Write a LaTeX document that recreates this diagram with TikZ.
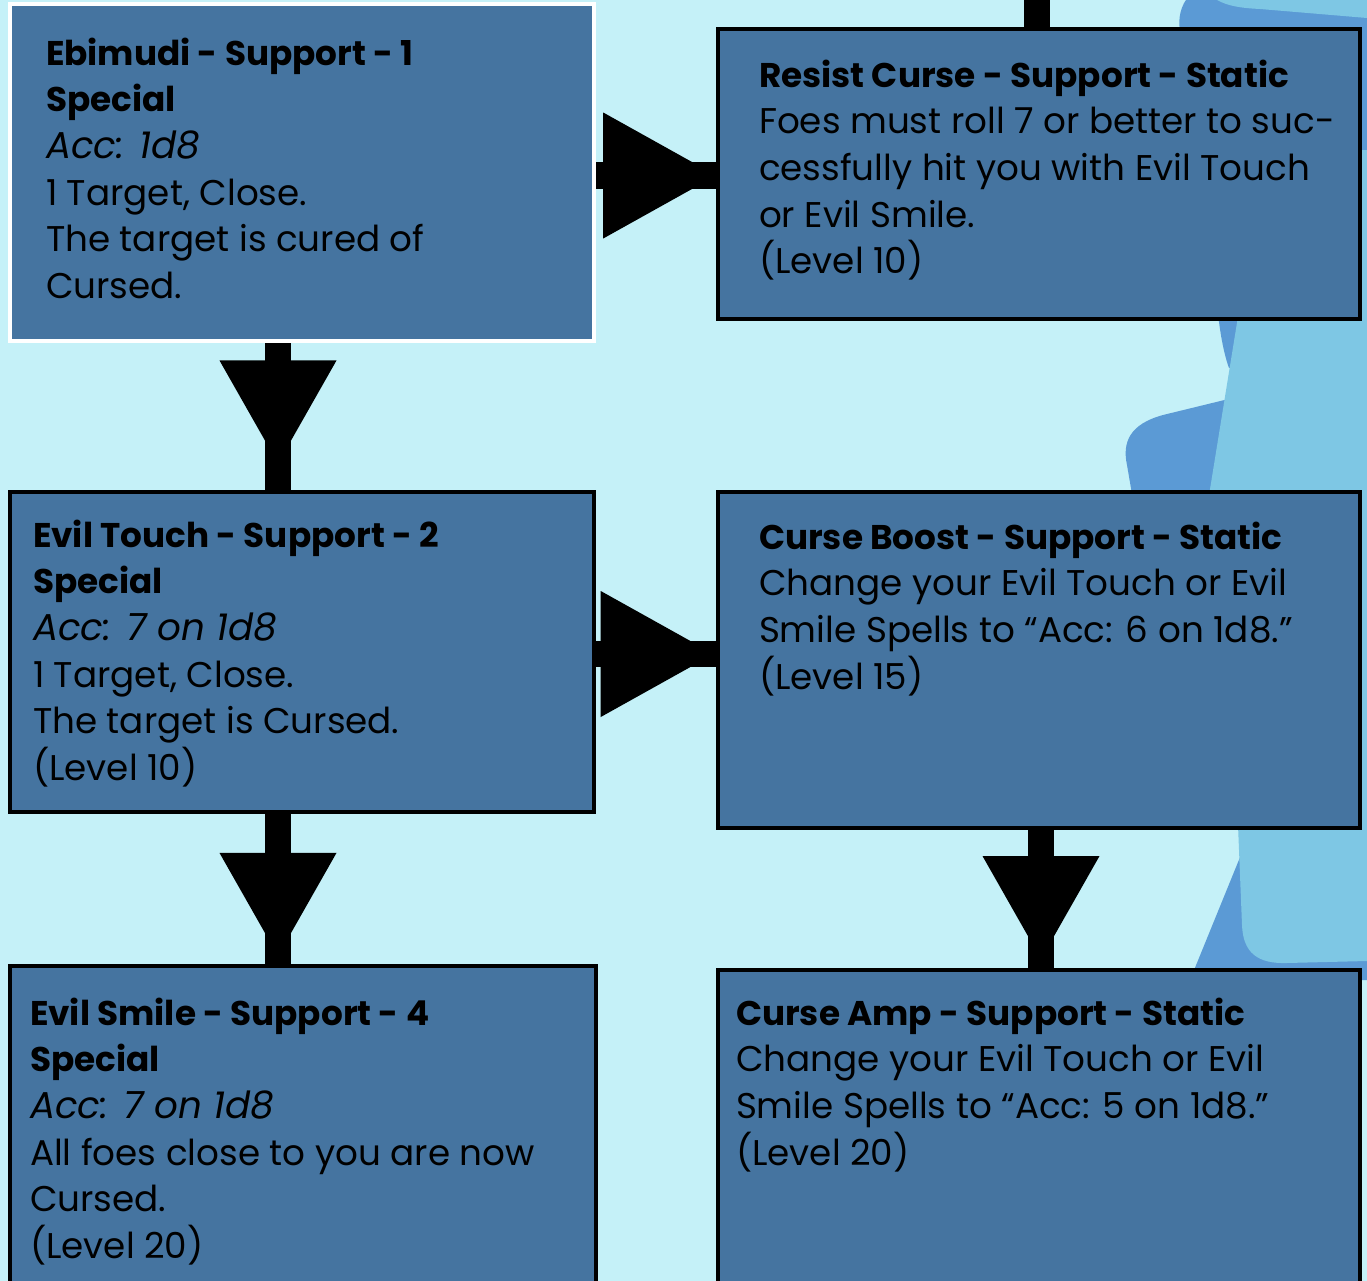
\documentclass[tikz,border=0pt]{standalone}
\usepackage{fontspec}
\setmainfont{Poppins}
\usetikzlibrary{fit,backgrounds,calc}

\definecolor{bgcyan}{RGB}{197,241,248}
\definecolor{cardblue}{RGB}{69,116,160}
\definecolor{midblue}{RGB}{91,154,213}
\definecolor{paleblue}{RGB}{126,199,228}

\newcommand\cardfont{\fontsize{26.8pt}{34.9pt}\selectfont}
\newcommand\cardhead[1]{{\fontsize{25.7pt}{34.9pt}\selectfont\bfseries #1}}
\newcommand\cardacc[1]{{\fontsize{28pt}{34.9pt}\selectfont\itshape #1}}

\begin{document}
\begin{tikzpicture}[x=0.75pt,y=-0.75pt,
  card/.style={draw=black, line width=3pt, fill=cardblue, inner sep=0pt, outer sep=0pt},
  firstcard/.style={card, draw=white},
  cardtxt/.style={anchor=north west, inner sep=0pt, outer sep=0pt, align=left, font=\cardfont},
  shaft/.style={line width=20pt, draw=black},
  downhead/.pic={\fill[black] (-58.5,-51.5) -- (58.5,-51.5) -- (0,51.5) -- cycle;},
  righthead/.pic={\fill[black] (-56.5,-63) -- (56.5,0) -- (-56.5,63) -- cycle;}
]
\useasboundingbox (0,0) rectangle (1367,1281);

% cards
\node[firstcard, fit={(10,4) (594,341)}] (b1) {};
\node[card, fit={(10,492) (594,812)}] (b2) {};
\node[card, fit={(10,966) (596,1295)}] (b3) {};
\node[card, fit={(718,29) (1360,319)}] (b4) {};
\node[card, fit={(718,492) (1360,828)}] (b5) {};
\node[card, fit={(718,970) (1360,1295)}] (b6) {};

% card texts
\node[cardtxt] (t1) at ([shift={(36,34)}]b1.north west)
  {\cardhead{Ebimudi - Support - 1}\\ \cardhead{Special}\\ \cardacc{Acc: 1d8}\\
   1 Target, Close.\\ The target is cured of\\ Cursed.};
\node[cardtxt] (t2) at ([shift={(23,28)}]b2.north west)
  {\cardhead{Evil Touch - Support - 2}\\ \cardhead{Special}\\ \cardacc{Acc: 7 on 1d8}\\
   1 Target, Close.\\ The target is Cursed.\\ (Level 10)};
\node[cardtxt] (t3) at ([shift={(20,32)}]b3.north west)
  {\cardhead{Evil Smile - Support - 4}\\ \cardhead{Special}\\ \cardacc{Acc: 7 on 1d8}\\
   All foes close to you are now\\ Cursed.\\ (Level 20)};
\node[cardtxt] (t4) at ([shift={(41,31)}]b4.north west)
  {\cardhead{Resist Curse - Support - Static}\\ Foes must roll 7 or better to suc-\\
   cessfully hit you with Evil Touch\\ or Evil Smile.\\ (Level 10)};
\node[cardtxt] (t5) at ([shift={(41,30)}]b5.north west)
  {\cardhead{Curse Boost - Support - Static}\\ Change your Evil Touch or Evil\\
   Smile Spells to “Acc: 6 on 1d8.”\\ (Level 15)};
\node[cardtxt] (t6) at ([shift={(18,28)}]b6.north west)
  {\cardhead{Curse Amp - Support - Static}\\ Change your Evil Touch or Evil\\
   Smile Spells to “Acc: 5 on 1d8.”\\ (Level 20)};

% guide coordinates for the connectors
\coordinate (ax) at (278,0);
\coordinate (bx) at (1041,0);
\coordinate (topin) at (1037,0);
\coordinate (ay1) at (0,175.5);
\coordinate (ay2) at (0,654);

\begin{scope}[on background layer]
  % backdrop
  \fill[bgcyan] (0,0) rectangle (1367,1281);
  \fill[midblue] (1190,-5) .. controls (1180,5) and (1178,20) .. (1180,30)
    -- (1219,322) .. controls (1222,345) and (1226,360) .. (1229,368)
    -- (1367,368) -- (1367,-5) -- cycle;
  \fill[paleblue] (1217,0) .. controls (1228,6) and (1240,8) .. (1260,9)
    -- (1367,18) -- (1367,0) -- cycle;
  \fill[midblue] (1245,395) -- (1163,415) .. controls (1130,424) and (1122,442) .. (1127,465)
    -- (1133,500) -- (1245,500) -- cycle;
  \fill[paleblue] (1265,150) -- (1205,520) -- (1367,520) -- (1367,150) -- cycle;
  \fill[paleblue] (1340,500) rectangle (1367,840);
  \fill[midblue] (1245,845) -- (1190,980) -- (1367,980) -- (1367,845) -- cycle;
  \fill[paleblue] (1237,800) -- (1242,925) .. controls (1243,953) and (1258,964) .. (1287,963)
    -- (1367,961) -- (1367,800) -- cycle;

  % connectors
  \draw[shaft] (b1.south -| ax) -- (b2.north -| ax);
  \pic at ($(b1.south -| ax)!0.47!(b2.north -| ax)$) {downhead};
  \draw[shaft] (b2.south -| ax) -- (b3.north -| ax);
  \pic at ($(b2.south -| ax)!0.60!(b3.north -| ax)$) {downhead};
  \draw[shaft] (b5.south -| bx) -- (b6.north -| bx);
  \pic at ($(b5.south -| bx)!0.56!(b6.north -| bx)$) {downhead};
  \draw[shaft] (topin) -- (b4.north -| topin);
  \draw[shaft] (b1.east |- ay1) -- (b4.west |- ay1);
  \pic at ($(b1.east |- ay1)!0.53!(b4.west |- ay1)$) {righthead};
  \draw[shaft] (b2.east |- ay2) -- (b5.west |- ay2);
  \pic at ($(b2.east |- ay2)!0.51!(b5.west |- ay2)$) {righthead};
\end{scope}
\end{tikzpicture}
\end{document}
